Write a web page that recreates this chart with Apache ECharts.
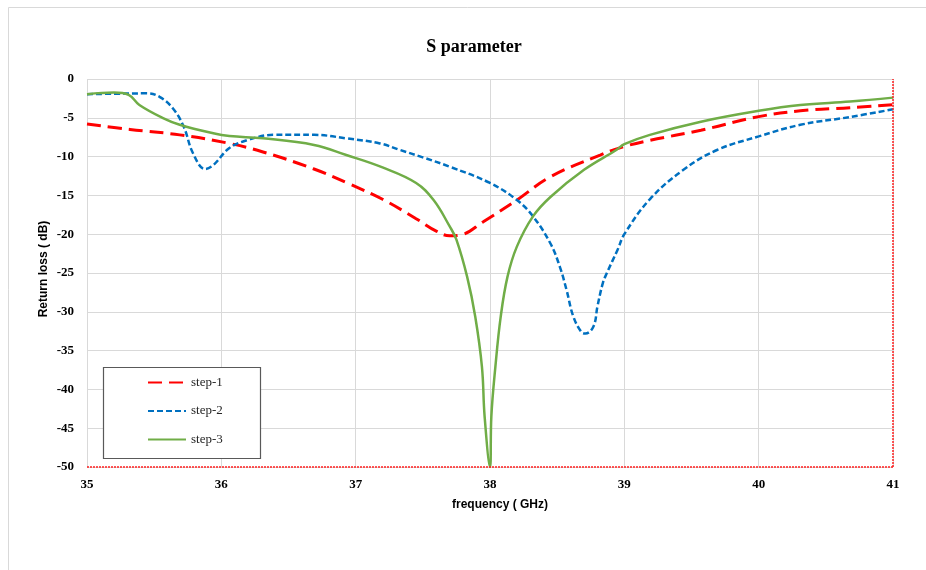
<!DOCTYPE html>
<html>
<head>
<meta charset="utf-8">
<script src="https://cdn.jsdelivr.net/npm/echarts@6/dist/echarts.min.js"></script>
<style>
html,body{margin:0;padding:0;background:#fff;}
#chart{width:926px;height:570px;}
</style>
</head>
<body>
<div id="chart"></div>
<script>
// Frequency (GHz) and return loss (dB)
const step1Freq = [35.0, 35.32, 35.69, 36.06, 36.31, 36.69, 36.95, 37.2, 37.45, 37.6, 37.70, 37.78, 37.95, 38.2, 38.45, 38.82, 39.0, 39.19, 39.57, 40.0, 40.31, 40.68, 41.0];
const step1Val  = [-5.8, -6.5, -7.2, -8.3, -9.4, -11.6, -13.5, -15.5, -18.0, -19.6, -20.2, -20.1, -18.4, -15.6, -12.6, -9.8, -8.7, -7.9, -6.6, -4.85, -4.1, -3.7, -3.3];

const step2Freq = [35.0, 35.2, 35.44, 35.54, 35.64, 35.72, 35.79, 35.88, 35.94, 36.06, 36.19, 36.39, 36.69, 36.93, 37.18, 37.33, 37.5, 37.70, 38.0, 38.2, 38.32, 38.45, 38.52, 38.57, 38.62, 38.68, 38.71, 38.77, 38.80, 38.84, 38.87, 38.95, 39.0, 39.19, 39.44, 39.69, 40.0, 40.31, 40.68, 41.0];
const step2Val  = [-1.95, -1.9, -1.85, -2.3, -3.8, -6.15, -9.6, -11.6, -11.1, -8.9, -7.9, -7.2, -7.2, -7.65, -8.3, -9.15, -10.1, -11.3, -13.4, -15.6, -17.7, -21.2, -24.2, -27.2, -30.6, -32.6, -32.8, -31.9, -29.3, -26.3, -25.0, -22.0, -20.0, -15.5, -11.7, -9.15, -7.4, -5.9, -4.9, -3.9];

const step3Freq = [35.0, 35.2, 35.31, 35.39, 35.57, 35.69, 35.94, 36.06, 36.31, 36.69, 36.93, 37.2, 37.45, 37.58, 37.70, 37.75, 37.83, 37.89, 37.94, 37.96, 38.0, 38.01, 38.04, 38.08, 38.13, 38.20, 38.32, 38.45, 38.70, 38.94, 39.0, 39.19, 39.57, 40.0, 40.31, 40.68, 41.0];
const step3Val  = [-1.95, -1.75, -2.05, -3.35, -5.07, -5.9, -7.0, -7.35, -7.65, -8.5, -9.8, -11.4, -13.4, -15.6, -19.0, -20.7, -25.5, -30.6, -37.1, -43.5, -50, -43.5, -37.1, -30.6, -25.5, -21.6, -17.7, -15.2, -11.7, -9.15, -8.4, -7.2, -5.5, -4.1, -3.35, -2.9, -2.4];

const seriesNames = ['step-1', 'step-2', 'step-3'];
const xTicks = {min: 35, max: 41, interval: 1};
const yTicks = {min: -50, max: 0, interval: 5};

function pairs(xs, ys) { return xs.map((x, i) => [x, ys[i]]); }

const chart = echarts.init(document.getElementById('chart'));
const serif = '"Liberation Serif", "Times New Roman", serif';
const sans = '"Liberation Sans", Arial, sans-serif';

chart.setOption({
  animation: false,
  backgroundColor: '#ffffff',
  grid: {left: 87, right: 33, top: 79, bottom: 103, containLabel: false},
  xAxis: {
    type: 'value', min: xTicks.min, max: xTicks.max, interval: xTicks.interval,
    axisLine: {show: false, onZero: false},
    axisTick: {show: false},
    axisLabel: {margin: 11, color: '#000', fontFamily: serif, fontWeight: 'bold', fontSize: 13},
    splitLine: {show: true, lineStyle: {color: '#d9d9d9', width: 1}}
  },
  yAxis: {
    type: 'value', min: yTicks.min, max: yTicks.max, interval: yTicks.interval,
    axisLine: {show: false, onZero: false},
    axisTick: {show: false},
    axisLabel: {margin: 13, color: '#000', fontFamily: serif, fontWeight: 'bold', fontSize: 13},
    splitLine: {show: true, lineStyle: {color: '#d9d9d9', width: 1}}
  },
  legend: {
    orient: 'vertical', left: 147, top: 376, padding: 0, z: 20,
    itemWidth: 38, itemHeight: 14, itemGap: 15.5, itemTextGap: 4,
    itemStyle: {opacity: 0},
    textStyle: {fontFamily: serif, fontSize: 13, color: '#262626'},
    data: seriesNames
  },
  graphic: {
    z: 1,
    elements: [
      {type: 'rect', silent: true, z: 1, shape: {x: 8.5, y: 7.5, width: 940, height: 600},
       style: {fill: null, stroke: '#d9d9d9', lineWidth: 1}},
      {type: 'rect', silent: true, z: 2, shape: {x: 103.5, y: 367.5, width: 157, height: 91},
       style: {fill: '#ffffff', stroke: '#595959', lineWidth: 1.2}},
      {type: 'text', z: 3, x: 474, y: 47, style: {text: 'S parameter', fill: '#000',
        font: 'bold 18px ' + serif, textAlign: 'center', textVerticalAlign: 'middle'}},
      {type: 'text', z: 3, x: 500, y: 505, style: {text: 'frequency ( GHz)', fill: '#000',
        font: 'bold 12px ' + sans, textAlign: 'center', textVerticalAlign: 'middle'}},
      {type: 'text', z: 3, x: 44, y: 269, rotation: Math.PI / 2, style: {text: 'Return loss ( dB)', fill: '#000',
        font: 'bold 12px ' + sans, textAlign: 'center', textVerticalAlign: 'middle'}}
    ]
  },
  series: [
    {name: seriesNames[0], type: 'line', data: pairs(step1Freq, step1Val), symbol: 'none',
     smooth: 0.4, color: '#ff0000',
     lineStyle: {color: '#ff0000', width: 3, type: [14, 7]}, z: 3,
     markLine: {
       silent: true, symbol: ['none', 'none'], animation: false, label: {show: false},
       lineStyle: {color: '#ff2020', width: 1.5, type: [2, 1], opacity: 1},
       emphasis: {disabled: true},
       data: [{yAxis: yTicks.min}, {xAxis: xTicks.max}]
     }},
    {name: seriesNames[1], type: 'line', data: pairs(step2Freq, step2Val), symbol: 'none',
     smooth: 0.4, color: '#0070c0',
     lineStyle: {color: '#0070c0', width: 2.5, type: [6, 3]}, z: 3},
    {name: seriesNames[2], type: 'line', data: pairs(step3Freq, step3Val), symbol: 'none',
     smooth: 0.4, color: '#70ad47',
     lineStyle: {color: '#70ad47', width: 2.5}, z: 3}
  ]
});
</script>
</body>
</html>
